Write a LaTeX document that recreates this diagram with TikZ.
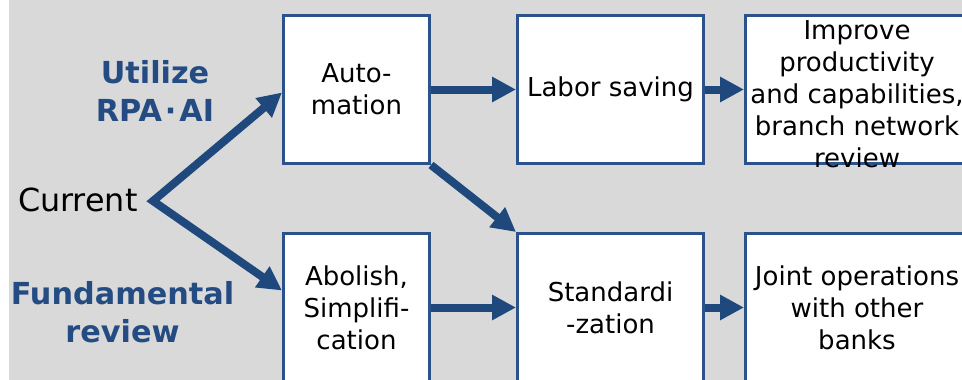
\documentclass[tikz,border=0pt]{standalone}
\usepackage{fontspec}
\setmainfont{DejaVu Sans}
\usetikzlibrary{positioning,arrows.meta}
\definecolor{bggray}{HTML}{D9D9D9}
\definecolor{boxblue}{RGB}{44,82,140}
\definecolor{arrowblue}{RGB}{31,73,125}
\definecolor{textblue}{RGB}{36,76,130}
\tikzset{bigtip/.tip={Triangle[length=24pt,width=24pt]}}

\begin{document}
\begin{tikzpicture}[x=1pt,y=1pt,node distance=254pt,on grid,
        boxtext/.style={align=center,font=\fontsize{26}{32}\selectfont},
        box/.style={boxtext,draw=boxblue,line width=3pt,fill=white,inner sep=0pt,
            minimum height=148pt},
        flow/.style={arrowblue,line width=8pt,-bigtip},
        title/.style={text=textblue,align=center,font=\bfseries\fontsize{30.3}{38}\selectfont}]
            \useasboundingbox (0,0) rectangle (962,-380);
            \fill[bggray] (9,0) rectangle (962,-380);

            \node[box, minimum width=146pt] (automation) at (356.5,-89.5) {Auto-\\mation};
            \node[box, minimum width=186pt] (labor) [right=of automation] {Labor saving};
            \node[box, minimum width=223pt,
                label={[boxtext, yshift=-5pt]center:Improve\\productivity\\and capabilities,\\branch network\\review}]
                (improve) [right=246.5pt of labor] {};
            \node[box, minimum width=146pt] (abolish) [below=218pt of automation]
                {Abolish,\\Simplifi-\\cation};
            \node[box, minimum width=186pt] (standard) [right=of abolish] {Standardi\\-zation};
            \node[box, minimum width=223pt] (joint) [right=246.5pt of standard]
                {Joint operations\\with other\\banks};

            \node[anchor=east, font=\fontsize{31.8}{37}\selectfont] (current) at (141,-200) {Current};
            \coordinate (fork) at (153,-201);
            \node[title] (utilize) at (155,-91) {Utilize\\RPA\kern3pt·\kern3pt AI};
            \node[title] (fundamental) at (122.5,-312) {Fundamental\\review};

            \draw[flow, bigtip-bigtip] ([yshift=-3pt]automation.west) -- (fork)
                -- ([yshift=17pt]abolish.west);
            \path[flow]
                (automation)
                    edge (labor)
                (automation.south east)
                    edge (standard.north west)
                (labor)
                    edge (improve)
                (abolish)
                    edge (standard)
                (standard)
                    edge (joint);
        \end{tikzpicture}
\end{document}
